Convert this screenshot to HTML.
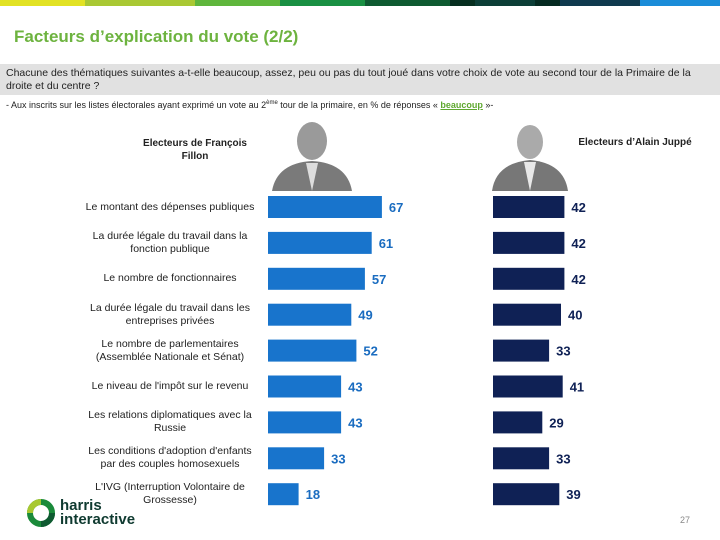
<!DOCTYPE html>
<html><head><meta charset="utf-8"><style>
body{margin:0;width:720px;height:540px;background:#fff;font-family:"Liberation Sans",sans-serif;position:relative;overflow:hidden}
.a{position:absolute}
.lbl{position:absolute;width:176px;left:82px;text-align:center;font-size:10.5px;color:#222;line-height:13px}
</style></head><body>
<div class="a" style="left:0;top:0;width:720px;height:6px;display:flex">
<div style="width:85px;background:#e2e224"></div><div style="width:110px;background:#a9c833"></div><div style="width:85px;background:#5fb63c"></div><div style="width:85px;background:#199043"></div><div style="width:85px;background:#0e5a31"></div><div style="width:25px;background:#062f20"></div><div style="width:60px;background:#0c3e37"></div><div style="width:25px;background:#052a21"></div><div style="width:80px;background:#0f3a4e"></div><div style="width:80px;background:#1a8cd8"></div></div>
<div class="a" style="left:14px;top:27px;font-size:17px;font-weight:bold;color:#6db33f">Facteurs d’explication du vote (2/2)</div>
<div class="a" style="left:0;top:64px;width:720px;height:31px;background:#e1e1e1"></div>
<div class="a" style="left:6px;top:67px;width:712px;font-size:10.5px;line-height:13px;color:#222">Chacune des thématiques suivantes a-t-elle beaucoup, assez, peu ou pas du tout joué dans votre choix de vote au second tour de la Primaire de la droite et du centre ?</div>
<div class="a" style="left:6px;top:100px;font-size:9px;color:#222">- Aux inscrits sur les listes électorales ayant exprimé un vote au 2<sup style="font-size:6px">ème</sup> tour de la primaire, en % de réponses « <b style="color:#5fa82f;text-decoration:underline">beaucoup</b> »-</div>
<div class="a" style="left:130px;top:137px;width:130px;text-align:center;font-size:10px;font-weight:bold;line-height:13px;color:#222">Electeurs de François Fillon</div>
<div class="a" style="left:570px;top:137px;width:130px;text-align:center;font-size:10px;font-weight:bold;color:#222">Electeurs d’Alain Juppé</div>
<svg class="a" style="left:272px;top:113px" width="80" height="78"><ellipse cx="40" cy="28" rx="15" ry="19" fill="#9a9a9a"/><path d="M0 78 Q5 50 40 48 Q75 50 80 78Z" fill="#7a7a7a"/><path d="M34 50 L40 78 L46 50Z" fill="#ddd"/></svg>
<svg class="a" style="left:490px;top:118px" width="80" height="73"><ellipse cx="40" cy="24" rx="13" ry="17" fill="#aaa"/><path d="M2 73 Q6 45 40 42 Q74 45 78 73Z" fill="#777"/><path d="M34 44 L40 73 L46 44Z" fill="#e8e8e8"/></svg>
<svg class="a" style="left:0;top:0" width="720" height="540" id="ch"></svg>
<div id="labels"></div>
<svg class="a" style="left:26px;top:498px" width="30" height="30"><circle cx="15" cy="15" r="11" fill="none" stroke="#1a8a3a" stroke-width="6"/><path d="M4 15 A11 11 0 0 1 15 4" fill="none" stroke="#a8c830" stroke-width="6"/><path d="M26 15 A11 11 0 0 1 15 26" fill="none" stroke="#0f5a31" stroke-width="6"/></svg>
<div class="a" style="left:60px;top:499px;font-size:15px;font-weight:bold;color:#0f3a30;line-height:14px">harris<br>interactive</div>
<div class="a" style="left:680px;top:515px;font-size:9px;color:#888">27</div>
<script>
const categories=["Le montant des dépenses publiques","La durée légale du travail dans la fonction publique","Le nombre de fonctionnaires","La durée légale du travail dans les entreprises privées","Le nombre de parlementaires (Assemblée Nationale et Sénat)","Le niveau de l'impôt sur le revenu","Les relations diplomatiques avec la Russie","Les conditions d'adoption d'enfants par des couples homosexuels","L'IVG (Interruption Volontaire de Grossesse)"];
const fillon=[67,61,57,49,52,43,43,33,18];
const juppe=[42,42,42,40,33,41,29,33,39];
const NS="http://www.w3.org/2000/svg";
const svg=document.getElementById('ch');
const sx=v=>v*1.7;
const rowY=i=>207+i*35.9;
const bh=22;
function bar(x0,v,i,color,name){
 const r=document.createElementNS(NS,'rect');
 r.setAttribute('x',x0);r.setAttribute('y',rowY(i)-bh/2);r.setAttribute('width',sx(v));r.setAttribute('height',bh);r.setAttribute('fill',color);
 
 
 svg.appendChild(r);
 const t=document.createElementNS(NS,'text');
 t.setAttribute('x',x0+sx(v)+7);t.setAttribute('y',rowY(i)+5);t.setAttribute('font-size','13');t.setAttribute('font-weight','bold');t.setAttribute('fill',color==='#1874cc'?'#1a6cc0':'#0f2155');t.setAttribute('font-family','Liberation Sans, sans-serif');
 t.textContent=v;
 
 
 svg.appendChild(t);
}
const lab=document.getElementById('labels');
categories.forEach((c,i)=>{
 bar(268,fillon[i],i,'#1874cc','fillon-bar');
 bar(493,juppe[i],i,'#0f2155','juppe-bar');
 const d=document.createElement('div');
 d.className='lbl';
 
 
 d.textContent=c;
 lab.appendChild(d);
 const h=d.offsetHeight;
 d.style.top=(rowY(i)-h/2)+'px';
});
</script>
</body></html>
